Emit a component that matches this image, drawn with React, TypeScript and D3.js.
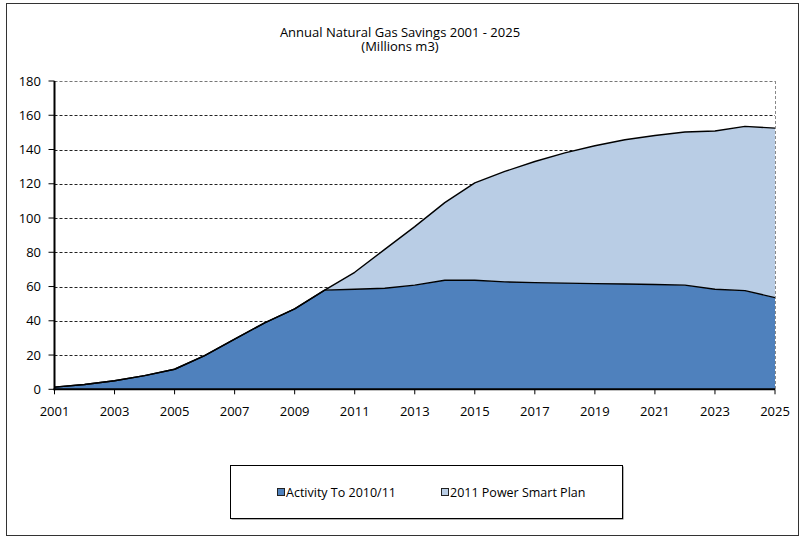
import React from "react";
import * as d3 from "d3";

const years = [2001, 2002, 2003, 2004, 2005, 2006, 2007, 2008, 2009, 2010, 2011, 2012, 2013, 2014, 2015, 2016, 2017, 2018, 2019, 2020, 2021, 2022, 2023, 2024, 2025];
const activity = [1.3, 2.8, 5, 8, 11.7, 19.7, 29.3, 38.8, 47, 57.9, 58.4, 59, 60.8, 63.7, 63.7, 62.7, 62.3, 62, 61.7, 61.5, 61.2, 60.8, 58.4, 57.6, 53.5];
const plan = [0, 0, 0, 0, 0, 0, 0, 0, 0, 0, 9.9, 22.7, 34.2, 45.3, 56.8, 64.5, 70.7, 76, 80.5, 84.2, 87, 89.4, 92.4, 95.9, 99];
const yTicks = [0, 20, 40, 60, 80, 100, 120, 140, 160, 180];
const xTickYears = [2001, 2003, 2005, 2007, 2009, 2011, 2013, 2015, 2017, 2019, 2021, 2023, 2025];
const seriesNames = ["Activity To 2010/11", "2011 Power Smart Plan"];
const seriesColors = ["#4F81BD", "#B9CDE5"];
const titleLines = ["Annual Natural Gas Savings 2001 - 2025", "(Millions m3)"];

const W = 803;
const H = 538;
const FONT = "'Open Sans', sans-serif";

export default function App() {
  const left = 54.5, right = 775, top = 81, bottom = 389.3;
  const x = d3.scaleLinear().domain([2001, 2025]).range([left, right]);
  const y = d3.scaleLinear().domain([0, 180]).range([bottom, top]);

  const rows = years.map((yr, i) => ({ year: yr, a: activity[i], p: plan[i] }));
  const stacked = d3.stack<any>().keys(["a", "p"])(rows);

  const area = d3
    .area<any>()
    .x((d) => x(d.data.year))
    .y0((d) => y(d[0]))
    .y1((d) => y(d[1]));
  const topLine = d3
    .line<any>()
    .x((d) => x(d.data.year))
    .y((d) => y(d[1]));

  return (
    <svg
      width={W}
      height={H}
      style={{ position: "absolute", left: 0, top: 0, background: "#fff" }}
      fontFamily={FONT}
    >
      <rect x={6.5} y={3.5} width={792} height={532} fill="#fff" stroke="#333" strokeWidth={1} />

      <text textAnchor="middle" fontSize={13} fill="#000">
        {titleLines.map((t, i) => (
          <tspan key={i} x={400} y={37 + i * 13.5}>
            {t}
          </tspan>
        ))}
      </text>

      {/* gridlines */}
      {yTicks.filter((v) => v > 0).map((v) => (
        <line
          key={v}
          x1={left}
          x2={right}
          y1={Math.round(y(v)) + 0.5}
          y2={Math.round(y(v)) + 0.5}
          stroke={v === 180 ? "#777" : "#222"}
          strokeWidth={1}
          strokeDasharray="3,2"
        />
      ))}

      {/* areas */}
      {stacked.map((s, i) => (
        <path key={"a" + i} d={area(s) || ""} fill={seriesColors[i]} stroke="none" />
      ))}
      {stacked.map((s, i) => (
        <path key={"l" + i} d={topLine(s) || ""} fill="none" stroke="#000" strokeWidth={1.4} strokeLinejoin="round" />
      ))}

      {/* right plot border */}
      <line x1={right + 0.5} x2={right + 0.5} y1={top} y2={bottom} stroke="#888" strokeWidth={1} strokeDasharray="3,2" />

      {/* y axis */}
      <line x1={left} x2={left} y1={top} y2={bottom + 1} stroke="#000" strokeWidth={2} />
      {yTicks.map((v) => (
        <g key={"yt" + v}>
          <line x1={left - 6} x2={left} y1={y(v)} y2={y(v)} stroke="#000" strokeWidth={1} />
          <text x={41} y={y(v) + 4.5} textAnchor="end" fontSize={13} fill="#000">
            {v}
          </text>
        </g>
      ))}

      {/* x axis */}
      <line x1={left - 1} x2={right} y1={bottom} y2={bottom} stroke="#000" strokeWidth={2} />
      {xTickYears.map((yr) => (
        <g key={"xt" + yr}>
          <line x1={x(yr)} x2={x(yr)} y1={bottom} y2={bottom + 5} stroke="#000" strokeWidth={1} />
          <text x={x(yr)} y={416} textAnchor="middle" fontSize={13} fill="#000">
            {yr}
          </text>
        </g>
      ))}

      {/* legend */}
      <rect x={231.5} y={466.5} width={392} height={53} fill="#666" />
      <rect x={230.5} y={465.5} width={392} height={53} fill="#fff" stroke="#000" strokeWidth={1} />
      {seriesNames.map((n, i) => {
        const lx = i === 0 ? 277 : 441;
        return (
          <g key={"lg" + i}>
            <rect x={lx + 0.5} y={488.5} width={7} height={7} fill={seriesColors[i]} stroke="#222" strokeWidth={1} />
            <text x={lx + 9} y={497} fontSize={12.5} fill="#000">
              {n}
            </text>
          </g>
        );
      })}
    </svg>
  );
}
